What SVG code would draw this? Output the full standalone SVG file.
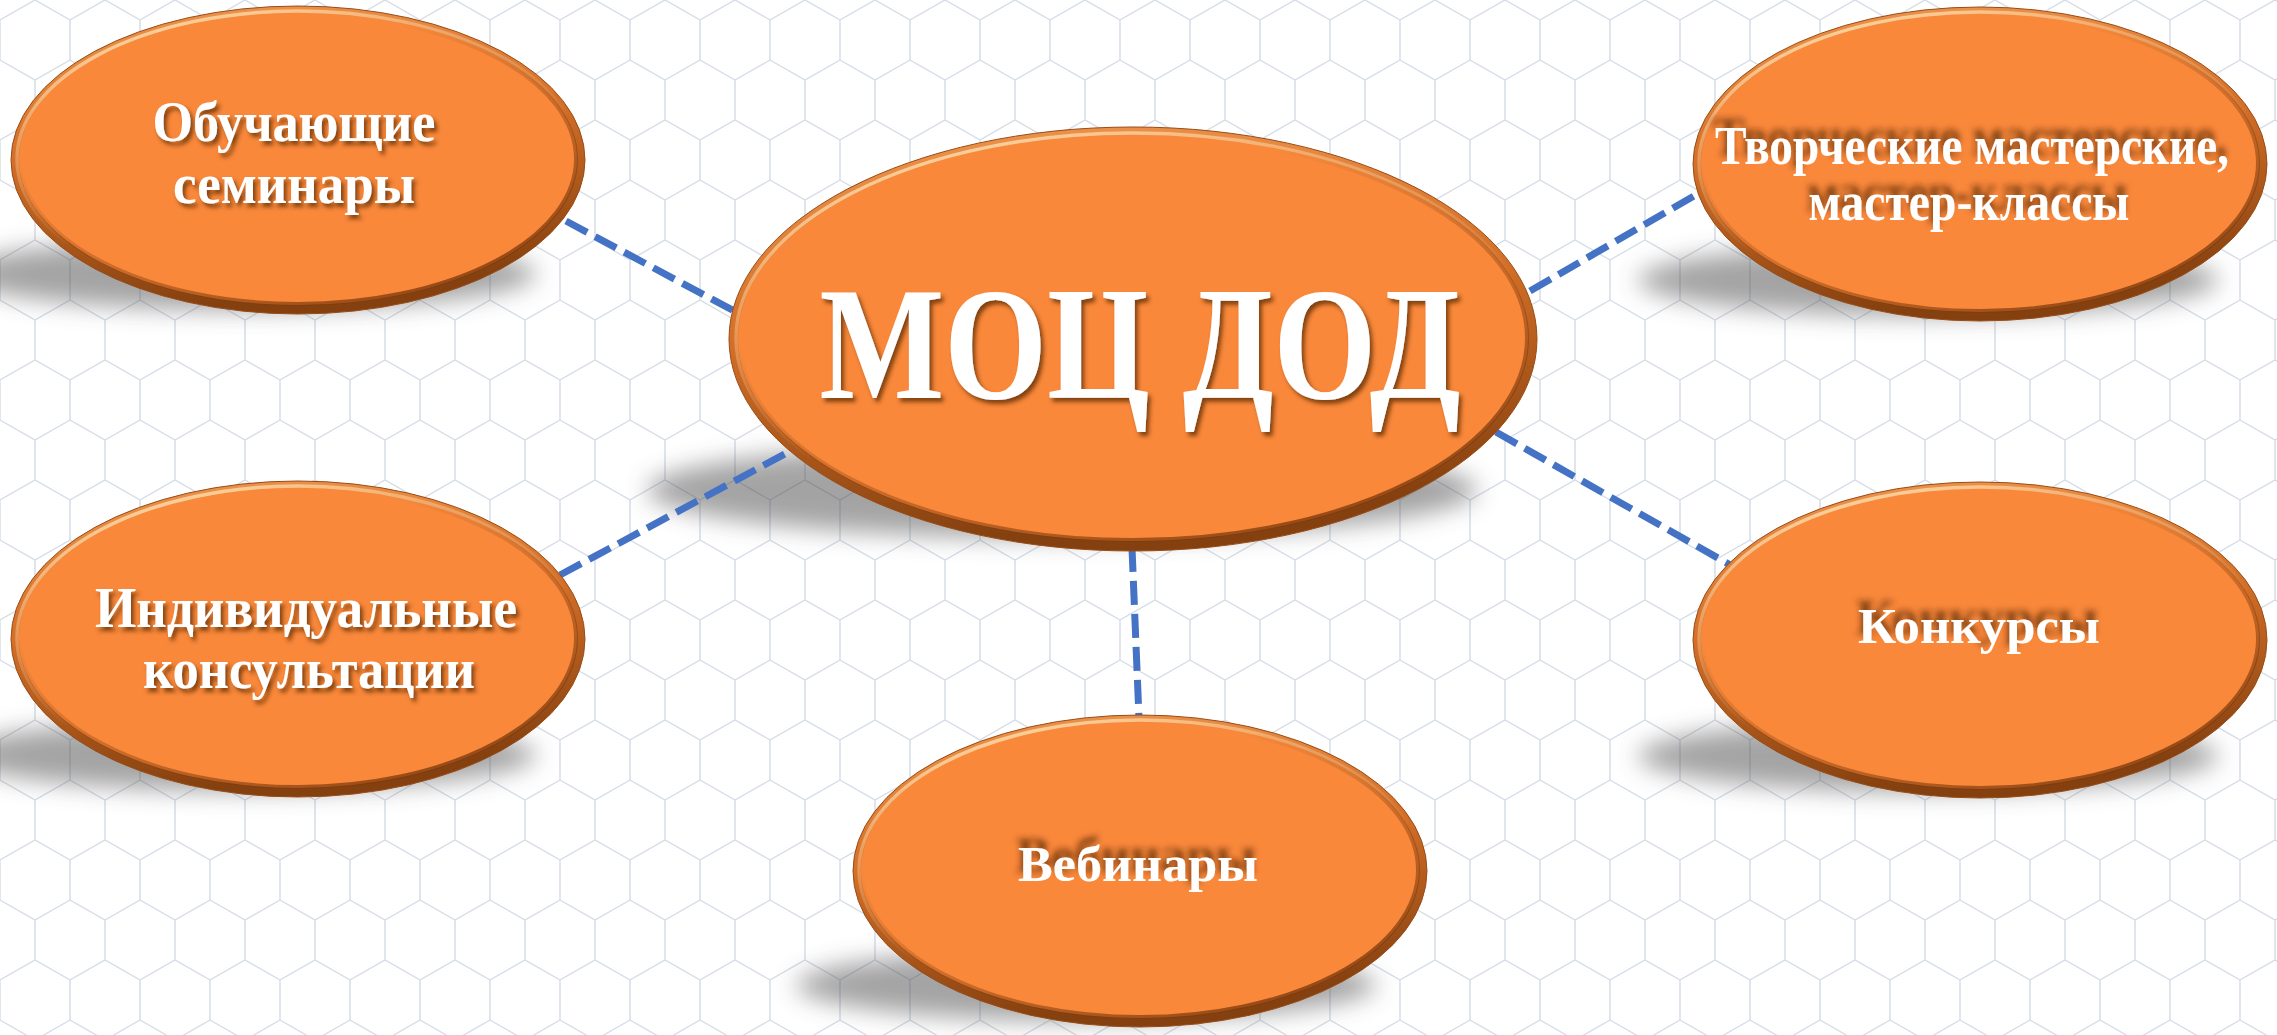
<svg xmlns="http://www.w3.org/2000/svg" width="2277" height="1035" viewBox="0 0 2277 1035">
<defs>
<pattern id="hex" x="0" y="0" width="70" height="120" patternUnits="userSpaceOnUse">
<path d="M0,20 L0,60 M0,60 L35,80 L70,60 M35,80 L35,120 M0,20 L35,0 L70,20 M70,20 L70,60" fill="none" stroke="#D3DBE6" stroke-width="1.4"/>
</pattern>
<filter id="shadowBlur" x="-20%" y="-100%" width="140%" height="300%"><feGaussianBlur stdDeviation="12"/></filter>
<filter id="txtDown" x="-10%" y="-30%" width="120%" height="170%">
<feGaussianBlur in="SourceAlpha" stdDeviation="2.2"/><feOffset dx="3" dy="4" result="b"/>
<feFlood flood-color="#5a2a08" flood-opacity="0.75"/><feComposite in2="b" operator="in" result="s"/>
<feMerge><feMergeNode in="s"/><feMergeNode in="SourceGraphic"/></feMerge>
</filter>
<filter id="txtUp" x="-10%" y="-60%" width="120%" height="200%">
<feGaussianBlur in="SourceAlpha" stdDeviation="3"/><feOffset dx="-2" dy="-9" result="b"/>
<feFlood flood-color="#4a2006" flood-opacity="0.7"/><feComposite in2="b" operator="in" result="s"/>
<feMerge><feMergeNode in="s"/><feMergeNode in="SourceGraphic"/></feMerge>
</filter>
<linearGradient id="rim" x1="0" y1="0" x2="0.2" y2="1">
<stop offset="0" stop-color="#F0974F"/>
<stop offset="0.5" stop-color="#D26E27"/>
<stop offset="1" stop-color="#84400F"/>
</linearGradient>
<linearGradient id="hl" x1="0.2" y1="0" x2="0.5" y2="0.6">
<stop offset="0" stop-color="#FFE0B0" stop-opacity="0.95"/>
<stop offset="0.45" stop-color="#FFC890" stop-opacity="0.5"/>
<stop offset="1" stop-color="#FFC890" stop-opacity="0"/>
</linearGradient>
<linearGradient id="dk" x1="0.3" y1="0.3" x2="0.8" y2="1">
<stop offset="0" stop-color="#8A4210" stop-opacity="0"/>
<stop offset="1" stop-color="#7A380C" stop-opacity="0.85"/>
</linearGradient>
<style>
.fill{fill:#F9883A}
.rimE{fill:url(#rim);stroke:#9A4C16;stroke-width:1}
.hlE{fill:none;stroke:url(#hl);stroke-width:3.5}
.dkE{fill:none;stroke:url(#dk);stroke-width:4}
.sh{fill:#4a4a4a;opacity:0.5;filter:url(#shadowBlur)}
.con{fill:none;stroke:#4472C4;stroke-width:7;stroke-dasharray:24 9}
.t{font-family:"Liberation Serif","Times New Roman",serif;font-weight:bold;fill:#FFFFFF;text-anchor:middle}
.dn{filter:url(#txtDown)}
.up{filter:url(#txtUp)}
</style>
</defs>
<rect width="2277" height="1035" fill="#FFFFFF"/>
<rect width="2277" height="1035" fill="url(#hex)"/>

<g id="shadows">
<ellipse class="sh" cx="246" cy="274" rx="290" ry="36"/>
<ellipse class="sh" cx="1062" cy="490" rx="415" ry="48"/>
<ellipse class="sh" cx="1928" cy="280" rx="290" ry="36"/>
<ellipse class="sh" cx="246" cy="755" rx="290" ry="36"/>
<ellipse class="sh" cx="1928" cy="756" rx="290" ry="36"/>
<ellipse class="sh" cx="1086" cy="985" rx="290" ry="36"/>
</g>

<g id="connectors">
<line class="con" x1="566" y1="221" x2="736" y2="312"/>
<line class="con" x1="1530" y1="291" x2="1699" y2="193"/>
<line class="con" x1="560" y1="575" x2="794" y2="449"/>
<line class="con" x1="1496" y1="432" x2="1732" y2="566"/>
<line class="con" x1="1132" y1="548" x2="1139" y2="718"/>
</g>

<g id="node-center">
<ellipse class="rimE" cx="1133" cy="339" rx="404" ry="212"/>
<ellipse class="fill" cx="1133" cy="338" rx="395" ry="203"/>
<ellipse class="hlE" cx="1133" cy="338" rx="397" ry="205"/>
<ellipse class="dkE" cx="1133" cy="338" rx="394" ry="202"/>
<text class="t dn" x="1140" y="398" font-size="160" textLength="641" lengthAdjust="spacingAndGlyphs">МОЦ ДОД</text>
</g>

<g id="node-seminars">
<ellipse class="rimE" cx="298" cy="160" rx="287" ry="154"/>
<ellipse class="fill" cx="298" cy="159" rx="279" ry="146"/>
<ellipse class="hlE" cx="298" cy="159" rx="281" ry="148"/>
<ellipse class="dkE" cx="298" cy="159" rx="278" ry="145"/>
<text class="t dn" x="294" y="141" font-size="58" textLength="283" lengthAdjust="spacingAndGlyphs">Обучающие</text>
<text class="t dn" x="294" y="203" font-size="58" textLength="242" lengthAdjust="spacingAndGlyphs">семинары</text>
</g>

<g id="node-workshops">
<ellipse class="rimE" cx="1980" cy="164" rx="287" ry="157"/>
<ellipse class="fill" cx="1980" cy="163" rx="279" ry="149"/>
<ellipse class="hlE" cx="1980" cy="163" rx="281" ry="151"/>
<ellipse class="dkE" cx="1980" cy="163" rx="278" ry="148"/>
<text class="t up" x="1972" y="164" font-size="55" textLength="514" lengthAdjust="spacingAndGlyphs">Творческие мастерские,</text>
<text class="t up" x="1969" y="220" font-size="55" textLength="321" lengthAdjust="spacingAndGlyphs">мастер-классы</text>
</g>

<g id="node-consult">
<ellipse class="rimE" cx="298" cy="639" rx="287" ry="158"/>
<ellipse class="fill" cx="298" cy="638" rx="279" ry="150"/>
<ellipse class="hlE" cx="298" cy="638" rx="281" ry="152"/>
<ellipse class="dkE" cx="298" cy="638" rx="278" ry="149"/>
<text class="t dn" x="306" y="627" font-size="57" textLength="422" lengthAdjust="spacingAndGlyphs">Индивидуальные</text>
<text class="t dn" x="309" y="688" font-size="57" textLength="332" lengthAdjust="spacingAndGlyphs">консультации</text>
</g>

<g id="node-contests">
<ellipse class="rimE" cx="1980" cy="640" rx="287" ry="158"/>
<ellipse class="fill" cx="1980" cy="639" rx="279" ry="150"/>
<ellipse class="hlE" cx="1980" cy="639" rx="281" ry="152"/>
<ellipse class="dkE" cx="1980" cy="639" rx="278" ry="149"/>
<text class="t up" x="1979" y="643" font-size="50" textLength="242" lengthAdjust="spacingAndGlyphs">Конкурсы</text>
</g>

<g id="node-webinars">
<ellipse class="rimE" cx="1140" cy="871" rx="287" ry="156"/>
<ellipse class="fill" cx="1140" cy="870" rx="279" ry="148"/>
<ellipse class="hlE" cx="1140" cy="870" rx="281" ry="150"/>
<ellipse class="dkE" cx="1140" cy="870" rx="278" ry="147"/>
<text class="t up" x="1138" y="881" font-size="50" textLength="240" lengthAdjust="spacingAndGlyphs">Вебинары</text>
</g>
</svg>
